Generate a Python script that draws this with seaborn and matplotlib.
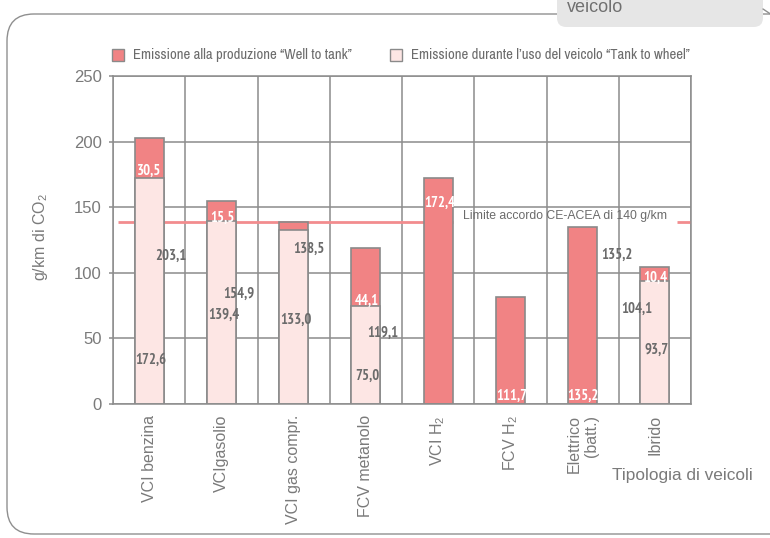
import numpy as np
import pandas as pd
import matplotlib
matplotlib.use("Agg")
import matplotlib.pyplot as plt
import seaborn as sns
from matplotlib import font_manager
from matplotlib.font_manager import FontProperties
from matplotlib.patches import FancyBboxPatch, Rectangle
from matplotlib.lines import Line2D

# ---------------- data ----------------
categories = ["VCI benzina", "VCIgasolio", "VCI gas compr.", "FCV metanolo",
              "VCI H$_2$", "FCV H$_2$", "Elettrico\n(batt.)", "Ibrido"]
tank_to_wheel = [172.6, 139.4, 133.0, 75.0, 0.0, 0.0, 0.0, 93.7]
well_to_tank = [30.5, 15.5, 5.5, 44.1, 172.4, 81.3, 135.2, 10.4]
limit_value = 138.5
limit_label = "Limite accordo CE-ACEA di 140 g/km"
legend_labels = ["Emissione alla produzione \u201cWell to tank\u201d",
                 "Emissione durante l\u2019uso del veicolo \u201cTank to wheel\u201d"]
y_ticks = [0, 50, 100, 150, 200, 250]
# value labels: (text, category position, y, white?)
value_labels = [
    ("30,5", 0.00, 178.0, True), ("203,1", 0.30, 113.0, False), ("172,6", 0.02, 34.0, False),
    ("15,5", 1.02, 142.0, True), ("154,9", 1.24, 84.0, False), ("139,4", 1.03, 68.0, False),
    ("138,5", 2.21, 118.0, False), ("133,0", 2.03, 64.0, False),
    ("44,1", 3.01, 79.0, True), ("119,1", 3.24, 54.0, False), ("75,0", 3.02, 21.5, False),
    ("172,4", 4.02, 153.0, True),
    ("111,7", 5.02, 6.0, True),
    ("135,2", 6.01, 6.0, True), ("135,2", 6.48, 114.0, False),
    ("10,4", 7.01, 96.0, True), ("104,1", 6.75, 72.4, False), ("93,7", 7.02, 41.3, False),
]

# ---------------- style ----------------
sns.set_theme(style="white")
names = {f.name for f in font_manager.fontManager.ttflist}
REG = "Liberation Sans" if "Liberation Sans" in names else "DejaVu Sans"
plt.rcParams["font.family"] = [REG, "DejaVu Sans"]
plt.rcParams["mathtext.fontset"] = "custom"
plt.rcParams["mathtext.rm"] = REG
plt.rcParams["mathtext.it"] = REG + ":italic"
plt.rcParams["mathtext.bf"] = REG + ":bold"


def find_narrow(bold):
    for f in font_manager.fontManager.ttflist:
        if "Narrow" not in f.name or f.style != "normal":
            continue
        w = f.weight if isinstance(f.weight, int) else (700 if "bold" in str(f.weight) else 400)
        if (w >= 600) == bold:
            return f.fname
    return None


nb = find_narrow(True)
nr = find_narrow(False)
FP_VAL = FontProperties(fname=nb, size=10.5) if nb else FontProperties(family=REG, weight="bold", size=8.6)
FP_LEG = FontProperties(fname=nr, size=10.6) if nr else FontProperties(family=REG, size=8.9)

DARK = "#F18384"
LIGHT = "#FDE6E4"
EDGE = "#8a8a8a"
GRID = "#8c8c8c"
TXT = "#7a7a7a"
LBL = "#6b6b6b"
LINE = "#F28C8E"

W, H = 770, 538
fig = plt.figure(figsize=(W / 100, H / 100), dpi=100)
ax = fig.add_axes([113 / W, 1 - 404 / H, (691 - 113) / W, (404 - 76) / H])

df = pd.DataFrame({"cat": categories,
                   "ttw": tank_to_wheel,
                   "total": np.array(tank_to_wheel) + np.array(well_to_tank)})

sns.barplot(data=df, x="cat", y="total", order=categories, color=DARK, saturation=1,
            width=0.4, edgecolor=EDGE, linewidth=1.2, ax=ax, zorder=2)
sns.barplot(data=df, x="cat", y="ttw", order=categories, color=LIGHT, saturation=1,
            width=0.4, edgecolor=EDGE, linewidth=1.2, ax=ax, zorder=2)

n = len(categories)
ax.set_xlim(-0.5, n - 0.5)
ax.set_ylim(0, 250)
ax.set_yticks(y_ticks)
ax.set_xticks(range(n))
ax.set_xticklabels(categories, rotation=90, va="top", ha="center",
                   multialignment="right", fontsize=11.5, color=TXT)
ax.set_xticks(np.arange(-0.5, n, 1.0), minor=True)
ax.tick_params(axis="y", labelsize=12, colors=TXT, length=3, width=1.1, pad=5, direction="out",
               left=True, color=GRID)
ax.tick_params(axis="x", which="both", length=0, pad=8)
for lab in ax.get_yticklabels():
    lab.set_color(TXT)
ax.grid(True, axis="y", which="major", color=GRID, lw=1.1)
ax.grid(True, axis="x", which="minor", color=GRID, lw=1.1)
ax.grid(False, axis="x", which="major")
ax.set_axisbelow(True)
for sp in ax.spines.values():
    sp.set_color(GRID)
    sp.set_linewidth(1.1)

ax.set_ylabel("g/km di CO$_2$", fontsize=11.5, color=TXT)
ax.yaxis.set_label_coords(-0.109, 0.51)
ax.set_xlabel("Tipologia di veicoli", fontsize=12.4, color=TXT)
ax.xaxis.set_label_coords(0.985, -0.2195)
ax.xaxis.label.set_va("center")

# limit line (interrupted by its label)
ax.hlines(limit_value, -0.43, 4.21, color=LINE, lw=2, zorder=1.5)
ax.hlines(limit_value, 7.31, 7.5, color=LINE, lw=2, zorder=1.5)
ax.text(5.76, limit_value + 4.5, limit_label, ha="center", va="center",
        fontsize=8.8, color=LBL, zorder=3)

# value labels
for txt, xp, yp, white in value_labels:
    ax.text(xp, yp, txt, ha="center", va="center", fontproperties=FP_VAL,
            color="white" if white else LBL, zorder=4)


# legend (figure level)
def fx(px):
    return px / W


def fy(py):
    return 1 - py / H


leg_y = 55
for x0, lab, col in [(112, legend_labels[0], DARK), (390, legend_labels[1], LIGHT)]:
    fig.patches.append(Rectangle((fx(x0), fy(leg_y + 6)), 12 / W, 12 / H, transform=fig.transFigure,
                                 facecolor=col, edgecolor=EDGE, lw=1.0))
    fig.text(fx(x0 + 21), fy(leg_y), lab, ha="left", va="center", fontproperties=FP_LEG,
             color=LBL)

# frame with rounded corners
fig.patches.append(FancyBboxPatch((fx(7), fy(534)), (800 - 7) / W, (534 - 14) / H,
                                  boxstyle="round,pad=0,rounding_size=0.035",
                                  transform=fig.transFigure, facecolor="none",
                                  edgecolor="#8f8f8f", lw=1.0, mutation_aspect=W / H))
# tab
fig.patches.append(FancyBboxPatch((fx(557), fy(27)), (763 - 557) / W, 60 / H,
                                  boxstyle="round,pad=0,rounding_size=0.012",
                                  transform=fig.transFigure, facecolor="#e6e6e6",
                                  edgecolor="none", mutation_aspect=W / H))
fig.lines.append(Line2D([fx(763), fx(772)], [fy(9), fy(15)], transform=fig.transFigure,
                        color="#8f8f8f", lw=1.0))
fig.text(fx(567), fy(8), "veicolo", ha="left", va="center", fontsize=13, color="#707070")

fig.savefig("out.png", dpi=100)
